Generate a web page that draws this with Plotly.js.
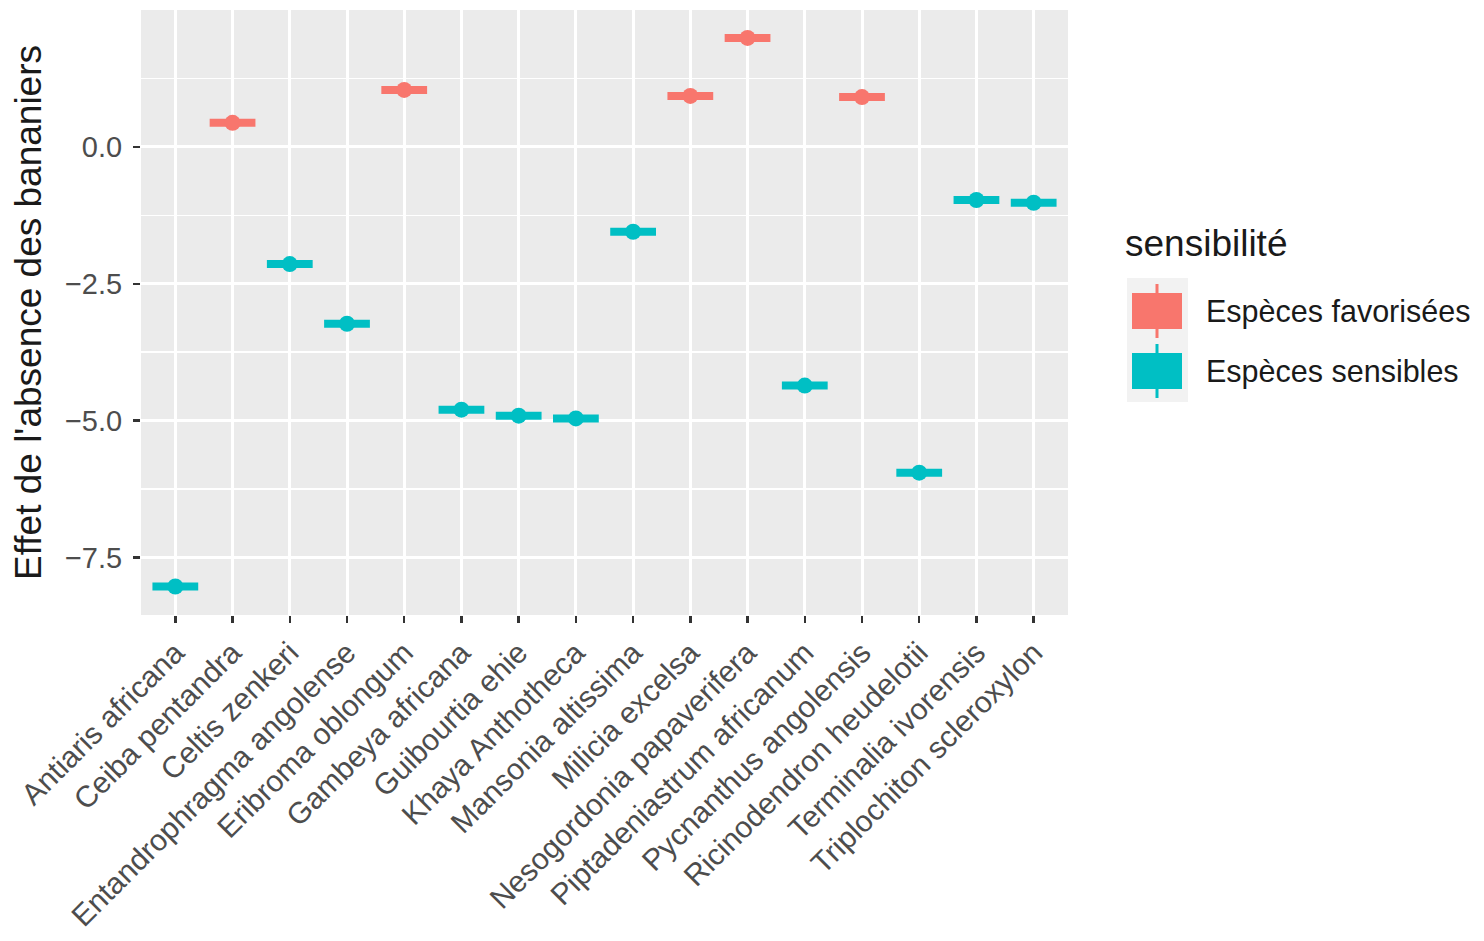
<!DOCTYPE html>
<html>
<head>
<meta charset="utf-8">
<script src="https://cdn.plot.ly/plotly-3.0.1.min.js"></script>
<style>html,body{margin:0;padding:0;background:#fff;}</style>
</head>
<body>
<div id="chart" style="width:1484px;height:941px;"></div>
<script>
const species = ["Antiaris africana","Ceiba pentandra","Celtis zenkeri","Entandrophragma angolense","Eribroma oblongum","Gambeya africana","Guibourtia ehie","Khaya Anthotheca","Mansonia altissima","Milicia excelsa","Nesogordonia papaverifera","Piptadeniastrum africanum","Pycnanthus angolensis","Ricinodendron heudelotii","Terminalia ivorensis","Triplochiton scleroxylon"];
const effet = [-8.03, 0.44, -2.14, -3.23, 1.04, -4.80, -4.91, -4.96, -1.55, 0.93, 1.99, -4.36, 0.91, -5.95, -0.97, -1.02];
const sensibilite = ["Espèces sensibles","Espèces favorisées","Espèces sensibles","Espèces sensibles","Espèces favorisées","Espèces sensibles","Espèces sensibles","Espèces sensibles","Espèces sensibles","Espèces favorisées","Espèces favorisées","Espèces sensibles","Espèces favorisées","Espèces sensibles","Espèces sensibles","Espèces sensibles"];
const groupNames = ["Espèces favorisées","Espèces sensibles"];
const groupColors = ["#F8766D","#00BFC4"];
const yTicks = [0, -2.5, -5, -7.5];
const yTickText = ["0.0","\u22122.5","\u22125.0","\u22127.5"];

const W = 1484, H = 941;
const L = 141, R = 1068, T = 10, B = 615;
const halfWidth = 0.4;
const font = "Liberation Sans, Arial, sans-serif";

const traces = [];
groupNames.forEach((g, gi) => {
  const sx = [], sy = [], px = [], py = [];
  species.forEach((s, i) => {
    if (sensibilite[i] !== g) return;
    sx.push(i - halfWidth, i + halfWidth, null);
    sy.push(effet[i], effet[i], null);
    px.push(i); py.push(effet[i]);
  });
  traces.push({x: sx, y: sy, mode: "lines", type: "scatter", line: {color: groupColors[gi], width: 8}, showlegend: false, hoverinfo: "skip"});
  traces.push({x: px, y: py, mode: "markers", type: "scatter", name: g, marker: {color: groupColors[gi], size: 16}, showlegend: false});
});

const px2x = p => (p - L) / (R - L);
const px2y = p => (B - p) / (B - T);

const shapes = [
  {type: "rect", xref: "paper", yref: "paper", x0: px2x(1127), x1: px2x(1188), y0: px2y(402), y1: px2y(278), fillcolor: "#F2F2F2", line: {width: 0}, layer: "above"}
];
const annotations = [
  {xref: "paper", yref: "paper", x: px2x(1123), y: px2y(243), xanchor: "left", yanchor: "middle", text: "sensibilité", showarrow: false, font: {family: font, size: 37, color: "#1a1a1a"}}
];
const keyCenters = [311, 371];
groupNames.forEach((g, gi) => {
  const c = keyCenters[gi];
  shapes.push({type: "line", xref: "paper", yref: "paper", x0: px2x(1157), x1: px2x(1157), y0: px2y(c + 27), y1: px2y(c - 27), line: {color: groupColors[gi], width: 3}, layer: "above"});
  shapes.push({type: "rect", xref: "paper", yref: "paper", x0: px2x(1132), x1: px2x(1182), y0: px2y(c + 18), y1: px2y(c - 18), fillcolor: groupColors[gi], line: {width: 0}, layer: "above"});
  annotations.push({xref: "paper", yref: "paper", x: px2x(1204), y: px2y(c), xanchor: "left", yanchor: "middle", text: g, showarrow: false, font: {family: font, size: 30.5, color: "#1a1a1a"}});
});

const layout = {
  width: W, height: H,
  margin: {l: L, r: W - R, t: T, b: H - B, autoexpand: false},
  paper_bgcolor: "#ffffff",
  plot_bgcolor: "#EBEBEB",
  font: {family: font},
  showlegend: false,
  xaxis: {
    range: [-0.6, species.length - 0.4],
    tickmode: "array",
    tickvals: species.map((s, i) => i),
    ticktext: species,
    tickangle: -45,
    tickfont: {family: font, size: 30, color: "#4D4D4D"},
    ticks: "outside", ticklen: 7, tickwidth: 2.5, tickcolor: "#333333",
    showgrid: true, gridcolor: "#ffffff", gridwidth: 3,
    zeroline: false, showline: false, automargin: false, fixedrange: true
  },
  yaxis: {
    range: [-8.55, 2.5],
    tickmode: "array",
    tickvals: yTicks,
    ticktext: yTickText,
    tickfont: {family: font, size: 29, color: "#4D4D4D"},
    ticks: "outside", ticklen: 7, tickwidth: 2.5, tickcolor: "#333333",
    ticklabelstandoff: 5,
    showgrid: true, gridcolor: "#ffffff", gridwidth: 3,
    minor: {tickmode: "linear", tick0: 1.25, dtick: 2.5, showgrid: true, gridcolor: "#ffffff", gridwidth: 1.5, ticks: ""},
    zeroline: false, showline: false, automargin: false, fixedrange: true,
    title: {text: "Effet de l'absence des bananiers", font: {family: font, size: 37, color: "#1a1a1a"}, standoff: 12}
  },
  shapes: shapes,
  annotations: annotations
};

Plotly.newPlot("chart", traces, layout, {displayModeBar: false, staticPlot: true});
</script>
</body>
</html>
